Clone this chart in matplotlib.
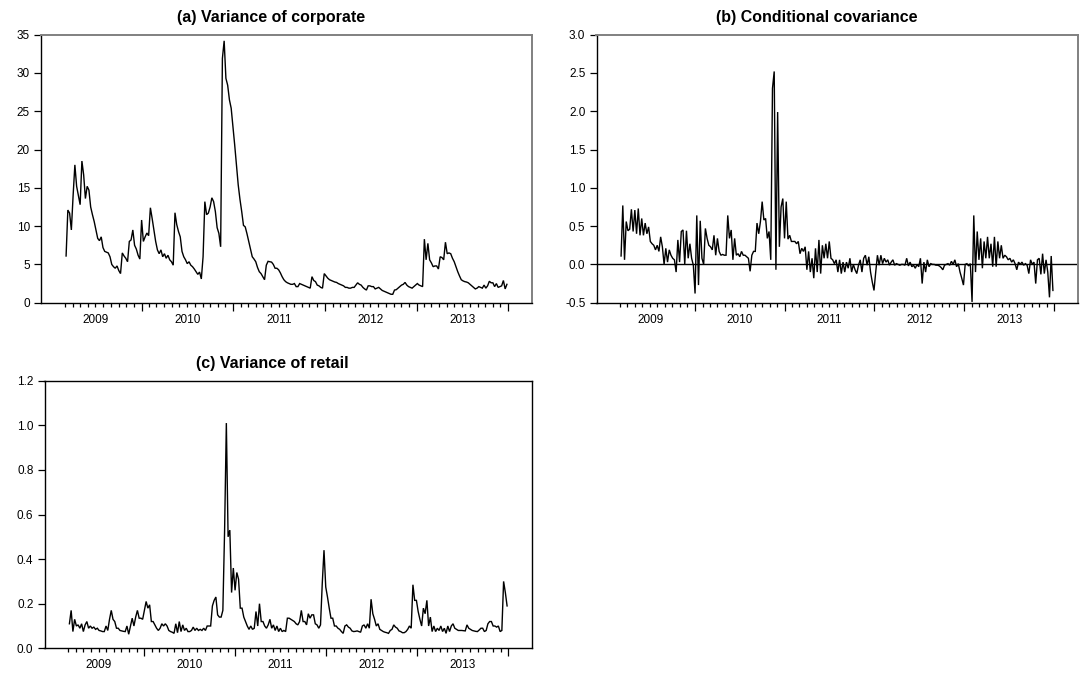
import numpy as np
import pandas as pd
import matplotlib
matplotlib.use("Agg")
import matplotlib.pyplot as plt
import matplotlib.dates as mdates
from matplotlib.transforms import blended_transform_factory

plt.rcParams['font.family'] = ['Liberation Sans', 'DejaVu Sans']

# Weekly series, first observation 2009-03-06
corporate = [
    6.1, 12.1, 11.7, 9.5, 14.0, 18.0, 15.2, 14.0, 12.8, 18.5,
    16.7, 13.6, 15.2, 14.7, 12.5, 11.5, 10.6, 9.5, 8.4, 8.1,
    8.6, 7.2, 6.7, 6.6, 6.5, 6.0, 5.0, 4.7, 4.5, 4.8,
    4.2, 3.8, 6.5, 6.1, 5.8, 5.35, 8.0, 8.2, 9.5, 7.5,
    7.0, 6.2, 5.7, 10.8, 8.0, 8.6, 9.1, 8.75, 12.4, 11.0,
    9.5, 8.0, 6.9, 6.4, 6.9, 6.0, 6.4, 5.8, 6.2, 5.6,
    5.35, 4.9, 11.75, 10.2, 9.3, 8.6, 6.7, 6.0, 5.6, 5.1,
    5.35, 4.9, 4.7, 4.4, 4.05, 3.7, 4.0, 3.1, 6.0, 13.2,
    11.5, 11.7, 12.5, 13.7, 13.2, 11.9, 9.8, 9.05, 7.3, 31.9,
    34.2, 29.3, 28.4, 26.5, 25.4, 23.0, 20.6, 18.0, 15.4, 13.5,
    11.9, 10.1, 9.9, 9.0, 8.0, 7.0, 6.0, 5.7, 5.35, 4.6,
    4.05, 3.8, 3.4, 3.0, 4.9, 5.4, 5.35, 5.3, 5.0, 4.5,
    4.5, 4.3, 3.9, 3.4, 3.0, 2.75, 2.6, 2.5, 2.4, 2.4,
    2.5, 2.1, 2.1, 2.5, 2.4, 2.3, 2.2, 2.1, 2.0, 1.9,
    3.4, 2.9, 2.75, 2.3, 2.2, 2.0, 1.9, 3.8, 3.5, 3.2,
    3.0, 2.9, 2.8, 2.7, 2.65, 2.5, 2.4, 2.3, 2.2, 2.0,
    2.0, 1.9, 1.9, 2.0, 2.0, 2.3, 2.6, 2.4, 2.3, 2.0,
    1.8, 1.65, 2.2, 2.2, 2.1, 2.1, 1.8, 1.9, 2.0, 1.8,
    1.6, 1.5, 1.4, 1.3, 1.2, 1.1, 1.1, 1.65, 1.7, 1.9,
    2.1, 2.3, 2.4, 2.65, 2.3, 2.1, 2.0, 1.9, 2.1, 2.3,
    2.5, 2.3, 2.2, 2.1, 8.3, 5.6, 7.75, 5.6, 5.2, 4.7,
    4.8, 4.8, 4.4, 6.0, 5.9, 5.6, 7.9, 6.4, 6.5, 6.4,
    5.8, 5.35, 4.7, 4.05, 3.5, 3.0, 2.85, 2.75, 2.7, 2.6,
    2.4, 2.2, 2.0, 1.8, 1.9, 2.1, 2.0, 1.9, 2.3, 1.9,
    2.2, 2.8, 2.6, 2.6, 2.1, 2.5, 2.0, 2.1, 2.2, 2.9,
    1.8, 2.4,
]

covariance = [
    0.11, 0.77, 0.06, 0.56, 0.44, 0.46, 0.72, 0.43, 0.71, 0.40,
    0.73, 0.38, 0.60, 0.38, 0.54, 0.40, 0.49, 0.30, 0.27, 0.25,
    0.19, 0.25, 0.17, 0.36, 0.23, 0.0, 0.21, 0.03, 0.19, 0.12,
    0.08, 0.06, -0.10, 0.32, 0.03, 0.43, 0.45, 0.0, 0.44, 0.08,
    0.27, 0.08, -0.01, -0.38, 0.64, -0.27, 0.57, 0.08, 0.0, 0.47,
    0.34, 0.25, 0.23, 0.19, 0.38, 0.12, 0.34, 0.17, 0.12, 0.13,
    0.12, 0.12, 0.64, 0.34, 0.45, 0.06, 0.34, 0.12, 0.14, 0.10,
    0.17, 0.12, 0.12, 0.10, 0.08, -0.09, 0.12, 0.17, 0.17, 0.54,
    0.40, 0.56, 0.82, 0.58, 0.60, 0.34, 0.43, 0.06, 2.30, 2.52,
    -0.07, 1.99, 0.23, 0.75, 0.86, 0.34, 0.82, 0.33, 0.38, 0.30,
    0.30, 0.30, 0.27, 0.30, 0.14, 0.21, 0.17, 0.23, -0.07, 0.17,
    -0.10, 0.08, -0.18, 0.21, -0.10, 0.32, -0.12, 0.25, 0.08, 0.27,
    0.08, 0.30, 0.08, 0.06, 0.01, 0.06, -0.10, 0.06, -0.12, 0.03,
    -0.10, 0.03, -0.05, 0.08, -0.10, 0.0, -0.07, -0.12, -0.01, 0.06,
    -0.10, 0.08, 0.12, -0.01, 0.10, -0.10, -0.23, -0.34, -0.10, 0.12,
    -0.01, 0.12, 0.01, 0.08, 0.03, 0.06, -0.01, 0.03, 0.06, -0.01,
    0.01, 0.0, -0.01, 0.0, 0.0, -0.01, 0.08, -0.02, 0.03, -0.03,
    -0.01, -0.05, 0.0, -0.03, 0.08, -0.25, 0.03, -0.10, 0.06, -0.03,
    0.01, 0.0, 0.0, -0.01, -0.01, -0.02, -0.04, -0.07, -0.01, 0.0,
    0.01, -0.01, 0.04, 0.0, 0.06, -0.03, 0.01, -0.10, -0.18, -0.27,
    0.0, 0.01, -0.02, 0.01, -0.49, 0.64, -0.10, 0.43, 0.06, 0.34,
    -0.05, 0.30, 0.08, 0.36, 0.08, 0.27, -0.03, 0.36, -0.03, 0.30,
    0.08, 0.25, 0.08, 0.12, 0.10, 0.06, 0.08, 0.03, 0.06, 0.01,
    -0.07, 0.03, 0.0, 0.03, -0.01, 0.01, -0.01, -0.12, 0.06, 0.0,
    0.03, -0.25, 0.06, 0.08, -0.13, 0.14, -0.12, 0.06, -0.10, -0.43,
    0.11, -0.34,
]

retail = [
    0.11, 0.17, 0.075, 0.13, 0.10, 0.105, 0.09, 0.11, 0.075, 0.105,
    0.12, 0.09, 0.10, 0.09, 0.095, 0.085, 0.09, 0.08, 0.078, 0.075,
    0.075, 0.10, 0.08, 0.13, 0.17, 0.13, 0.12, 0.09, 0.09, 0.08,
    0.078, 0.076, 0.075, 0.10, 0.063, 0.10, 0.135, 0.10, 0.14, 0.17,
    0.135, 0.135, 0.13, 0.17, 0.21, 0.18, 0.195, 0.12, 0.12, 0.105,
    0.09, 0.08, 0.09, 0.11, 0.10, 0.11, 0.10, 0.08, 0.075, 0.072,
    0.067, 0.11, 0.07, 0.12, 0.075, 0.105, 0.08, 0.09, 0.075, 0.075,
    0.08, 0.095, 0.08, 0.09, 0.08, 0.085, 0.08, 0.09, 0.08, 0.10,
    0.10, 0.10, 0.19, 0.215, 0.23, 0.15, 0.14, 0.14, 0.17, 0.53,
    1.01, 0.50, 0.53, 0.25, 0.36, 0.26, 0.34, 0.31, 0.18, 0.18,
    0.14, 0.12, 0.10, 0.085, 0.10, 0.085, 0.09, 0.165, 0.10, 0.20,
    0.12, 0.12, 0.10, 0.09, 0.105, 0.13, 0.09, 0.105, 0.08, 0.10,
    0.075, 0.09, 0.075, 0.08, 0.075, 0.135, 0.135, 0.13, 0.125, 0.12,
    0.11, 0.105, 0.12, 0.17, 0.12, 0.12, 0.105, 0.155, 0.135, 0.15,
    0.15, 0.11, 0.105, 0.09, 0.105, 0.29, 0.44, 0.275, 0.23, 0.18,
    0.135, 0.135, 0.10, 0.10, 0.09, 0.085, 0.075, 0.067, 0.10, 0.105,
    0.095, 0.09, 0.078, 0.075, 0.076, 0.078, 0.075, 0.072, 0.10, 0.105,
    0.09, 0.11, 0.09, 0.22, 0.155, 0.13, 0.10, 0.11, 0.085, 0.08,
    0.075, 0.072, 0.07, 0.067, 0.08, 0.085, 0.105, 0.095, 0.09, 0.078,
    0.075, 0.07, 0.07, 0.075, 0.085, 0.10, 0.09, 0.285, 0.215, 0.215,
    0.165, 0.13, 0.10, 0.18, 0.155, 0.215, 0.10, 0.14, 0.075, 0.10,
    0.075, 0.09, 0.08, 0.10, 0.075, 0.09, 0.067, 0.10, 0.075, 0.10,
    0.11, 0.09, 0.085, 0.08, 0.08, 0.08, 0.079, 0.078, 0.105, 0.09,
    0.085, 0.08, 0.078, 0.076, 0.075, 0.082, 0.09, 0.09, 0.075, 0.08,
    0.11, 0.12, 0.12, 0.10, 0.10, 0.095, 0.10, 0.075, 0.08, 0.30,
    0.25, 0.19,
]

year_labels = ["2009", "2010", "2011", "2012", "2013"]
titles = ["(a) Variance of corporate", "(b) Conditional covariance",
          "(c) Variance of retail"]

dates = pd.date_range("2009-03-06", periods=len(corporate), freq="7D")
x = mdates.date2num(dates)

W, H = 1087, 675
fig = plt.figure(figsize=(W / 100, H / 100), dpi=100)


def add_panel(left, right, top, bottom):
    return fig.add_axes([left / W, 1 - bottom / H, (right - left) / W, (bottom - top) / H])


def draw_panel(ax, series, ylim, yticks, fmt, title, title_x, frame_color):
    ax.plot(x, series, color="black", lw=1.0, solid_joinstyle="miter")
    pad = 100
    ax.set_xlim(x[0] - pad, x[-1] + pad)
    ax.set_ylim(*ylim)
    ax.set_yticks(yticks)
    ax.set_yticklabels([fmt.format(v) for v in yticks])

    major = mdates.date2num(pd.date_range("2010-01-01", "2014-01-01", freq="YS"))
    minor = pd.date_range("2009-03-01", "2013-12-01", freq="MS")
    minor = mdates.date2num(minor[minor.month != 1])
    ax.set_xticks(major)
    ax.set_xticks(minor, minor=True)
    ax.set_xticklabels([])

    trans = blended_transform_factory(ax.transData, ax.transAxes)
    for lab in year_labels:
        mid = mdates.date2num(pd.Timestamp(f"{lab}-07-02"))
        ax.annotate(lab, xy=(mid, 0), xycoords=trans, xytext=(0, -8),
                    textcoords="offset points", ha="center", va="top",
                    fontsize=8.5)

    ax.tick_params(axis="x", which="major", direction="out", length=5.5, width=0.9)
    ax.tick_params(axis="x", which="minor", direction="out", length=3.2, width=0.9)
    ax.tick_params(axis="y", direction="out", length=5.0, width=0.9, pad=3,
                   labelsize=8.5)
    for side in ("left", "bottom"):
        ax.spines[side].set_color("black")
        ax.spines[side].set_linewidth(1.0)
    for side in ("top", "right"):
        ax.spines[side].set_color(frame_color)
        ax.spines[side].set_linewidth(1.4 if frame_color != "black" else 1.0)

    fig.text(title_x / W, ax.get_position().y1 + 17 / H, title,
             ha="center", va="center", fontsize=11.5, fontweight="bold")


ax_a = add_panel(41, 532, 34.7, 302.7)
draw_panel(ax_a, corporate, (0, 35), np.arange(0, 36, 5), "{:.0f}",
           titles[0], 271, "#808080")

ax_b = add_panel(596.5, 1077.5, 34.7, 302.7)
ax_b.axhline(0, color="black", lw=1.0)
draw_panel(ax_b, covariance, (-0.5, 3.0), np.arange(-0.5, 3.01, 0.5), "{:.1f}",
           titles[1], 817, "#808080")

ax_c = add_panel(44.5, 532, 380.7, 648.3)
draw_panel(ax_c, retail, (0, 1.2), np.arange(0, 1.21, 0.2), "{:.1f}",
           titles[2], 272, "black")

fig.savefig("out.png", dpi=100)
